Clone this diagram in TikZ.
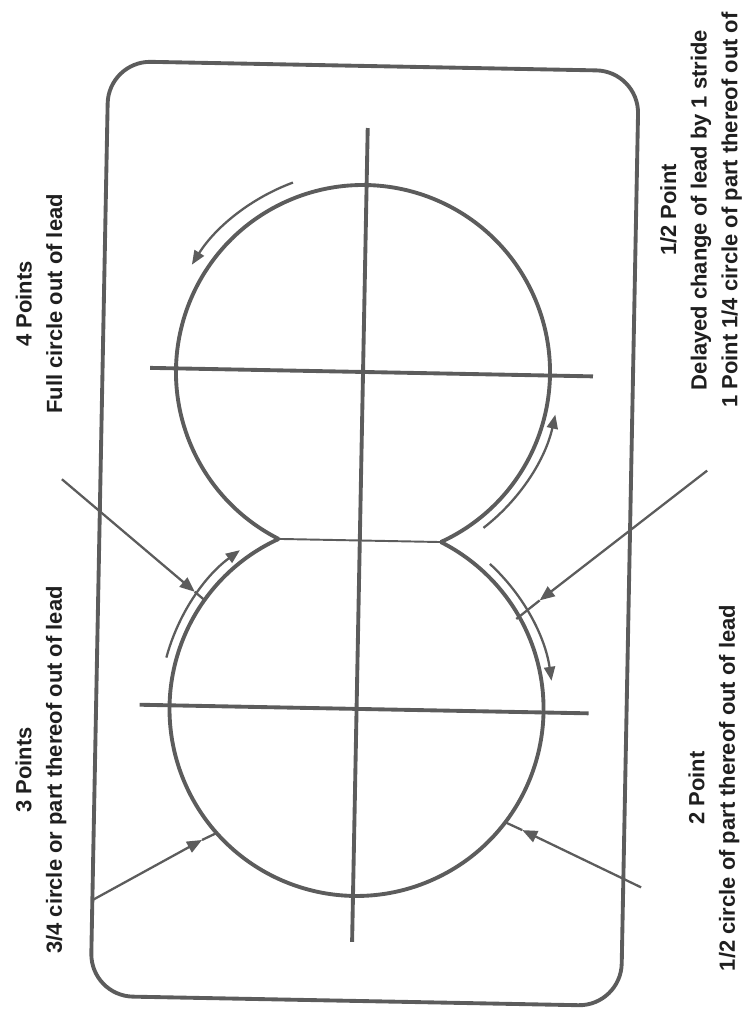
\documentclass[tikz,border=0pt]{standalone}
\usepackage{fontspec}
\setmainfont{Liberation Sans}
\usetikzlibrary{arrows.meta}
\definecolor{inkline}{gray}{0.36}
\definecolor{inktext}{gray}{0.12}
\tikzset{
  frame/.style={line width=2.2pt, draw=inkline, rounded corners=0.85cm},
  axisline/.style={line width=2.2pt, draw=inkline, line cap=butt},
  lobe/.style={line width=2.2pt, draw=inkline},
  waist/.style={line width=1.1pt, draw=inkline},
  runarrow/.style={line width=1.3pt, draw=inkline, -{Triangle[length=0.28cm, width=0.22cm]}},
  pointer/.style={line width=1.3pt, draw=inkline},
  pointertip/.style={pointer, -{Triangle[length=0.3cm, width=0.24cm]}},
  scorelabel/.style={font=\bfseries\fontsize{12.5}{17.4}\selectfont, text=inktext, align=center, rotate=90, inner sep=0pt},
}
\begin{document}
\begin{tikzpicture}
\useasboundingbox (0,0) rectangle (14.92,20.30);
\begin{scope}[rotate around={-1.1:(7.26,9.70)}]
\draw[frame] (1.99,0.28) rectangle (12.60,18.98);
\coordinate (upc) at (7.20,12.86);
\coordinate (lowc) at (7.20,6.12);
\coordinate (cuspl) at ([shift={(244.3:3.74)}]upc);
\coordinate (cuspr) at ([shift={(295.7:3.74)}]upc);
\draw[lobe] (cuspr) arc[start angle=-64.3, end angle=244.3, radius=3.74];
\draw[lobe] (cuspl) arc[start angle=115.7, end angle=424.3, radius=3.74];
\draw[waist] (cuspl) -- (cuspr);
\draw[axisline] (7.20,17.74) -- (7.20,1.46);
\draw[axisline] (2.94,12.86) -- (11.80,12.86);
\draw[axisline] (2.86,6.12) -- (11.84,6.12);
\draw[runarrow] ([shift={(111.4:4.04)}]upc) arc[start angle=111.4, end angle=149, radius=4.04];
\draw[runarrow] ([shift={(-51.2:3.94)}]upc) arc[start angle=-51.2, end angle=-11.4, radius=3.94];
\draw[runarrow] ([shift={(166:3.94)}]lowc) arc[start angle=166, end angle=127.4, radius=3.94];
\draw[runarrow] ([shift={(48.5:3.94)}]lowc) arc[start angle=48.5, end angle=9.3, radius=3.94];
\coordinate (p1s) at (1.22,10.60);
\coordinate (p1t) at (3.92,8.40);
\coordinate (p1e) at (4.14,8.22);
\coordinate (p2s) at (2.00,2.20);
\coordinate (p2t) at (4.16,3.44);
\coordinate (p2e) at (4.44,3.58);
\coordinate (p3s) at (12.96,2.66);
\coordinate (p3t) at (10.56,3.76);
\coordinate (p3e) at (10.24,3.90);
\coordinate (p4s) at (14.12,11.02);
\coordinate (p4t) at (10.82,8.36);
\coordinate (p4e) at (10.36,7.98);
\draw[pointertip] (p1s) -- (p1t);
\draw[pointer] (p1t) -- (p1e);
\draw[pointertip] (p2s) -- (p2t);
\draw[pointer] (p2t) -- (p2e);
\draw[pointertip] (p3s) -- (p3t);
\draw[pointer] (p3t) -- (p3e);
\draw[pointertip] (p4s) -- (p4t);
\draw[pointer] (p4t) -- (p4e);
\end{scope}
\node[scorelabel] (fourpts) at (0.78,14.22) {4 Points\\Full circle out of lead};
\node[scorelabel] (threepts) at (0.82,4.90) {3 Points\\3/4 circle or part thereof out of lead};
\node[scorelabel] (halfpt) at (14.02,16.10) {1/2 Point\\Delayed change of lead by 1 stride\\1 Point 1/4 circle of part thereof out of};
\node[scorelabel] (twopts) at (14.28,4.54) {2 Point\\1/2 circle of part thereof out of lead};
\end{tikzpicture}
\end{document}
